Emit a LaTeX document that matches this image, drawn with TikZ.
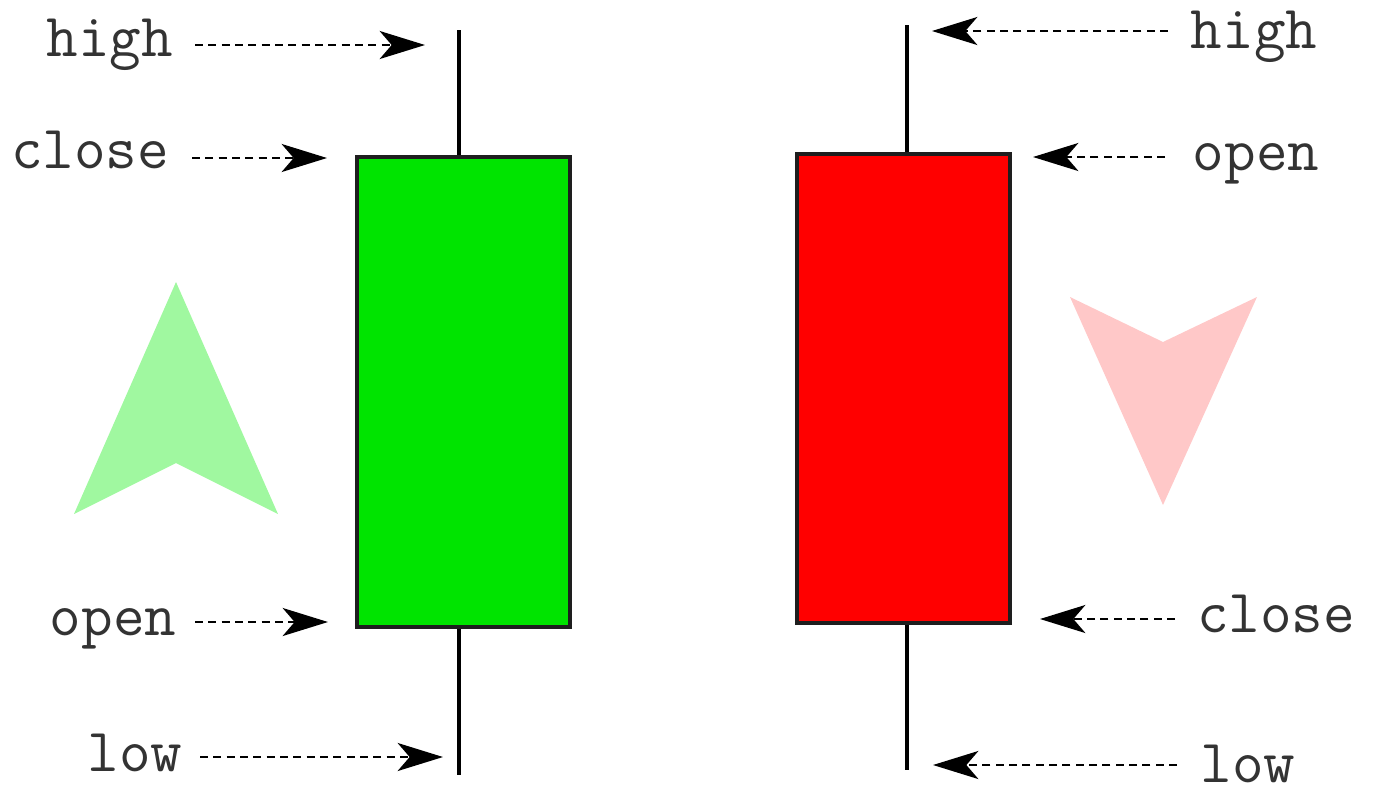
\documentclass[tikz,border=0pt]{standalone}
\usetikzlibrary{arrows.meta}
\definecolor{bullgreen}{RGB}{0,228,0}
\definecolor{bearred}{RGB}{255,0,0}
\definecolor{lightgreen}{RGB}{160,248,160}
\definecolor{lightred}{RGB}{255,200,200}
\definecolor{edgegray}{RGB}{30,30,30}
\tikzset{
  lbl/.style={inner sep=0pt, anchor=base, text=black!80, font=\ttfamily\fontsize{46}{54}\selectfont},
  ptr/.style={line width=1.9pt, dash pattern=on 6pt off 4pt,
    -{Stealth[length=34pt,width=21pt,inset=9pt]}},
  wick/.style={line width=2.4pt},
  body/.style={draw=edgegray, line width=2.4pt},
}
\begin{document}
\begin{tikzpicture}[x=0.75pt,y=-0.75pt]
\useasboundingbox (0,0) rectangle (1375,794);
% big direction arrows
\fill[lightgreen] (176,282) -- (278,514) -- (176,463) -- (74,514) -- cycle;
\fill[lightred] (1070,297) -- (1163,342) -- (1257,297) -- (1163,505) -- cycle;
% green candle
\coordinate (gtop) at (459,30);
\coordinate (gbot) at (459,775);
\draw[wick] (gtop) -- (gbot);
\draw[body, fill=bullgreen] (357,157) rectangle (570,627);
% red candle
\coordinate (rtop) at (907,25);
\coordinate (rbot) at (907,770);
\draw[wick] (rtop) -- (rbot);
\draw[body, fill=bearred] (797,154) rectangle (1010,623);
% left labels
\node[lbl] (lhigh) at (110,56) {high};
\node[lbl] (lclose) at (90,168) {close};
\node[lbl] (lopen) at (113,635) {open};
\node[lbl] (llow) at (135,771) {low};
\coordinate (lhighA) at (195,45);  \coordinate (lhighB) at (425,45);
\coordinate (lcloseA) at (192,158); \coordinate (lcloseB) at (327,158);
\coordinate (lopenA) at (195,622);  \coordinate (lopenB) at (328,622);
\coordinate (llowA) at (200,757);   \coordinate (llowB) at (443,757);
\draw[ptr] (lhighA) -- (lhighB);
\draw[ptr] (lcloseA) -- (lcloseB);
\draw[ptr] (lopenA) -- (lopenB);
\draw[ptr] (llowA) -- (llowB);
% right labels
\node[lbl] (rhigh) at (1254,48) {high};
\node[lbl] (ropen) at (1256,170) {open};
\node[lbl] (rclose) at (1276,632) {close};
\node[lbl] (rlow) at (1248,782) {low};
\coordinate (rhighA) at (1168,31);  \coordinate (rhighB) at (932,31);
\coordinate (ropenA) at (1165,157); \coordinate (ropenB) at (1033,157);
\coordinate (rcloseA) at (1175,619); \coordinate (rcloseB) at (1040,619);
\coordinate (rlowA) at (1177,765);  \coordinate (rlowB) at (933,765);
\draw[ptr] (rhighA) -- (rhighB);
\draw[ptr] (ropenA) -- (ropenB);
\draw[ptr] (rcloseA) -- (rcloseB);
\draw[ptr] (rlowA) -- (rlowB);
\end{tikzpicture}
\end{document}
